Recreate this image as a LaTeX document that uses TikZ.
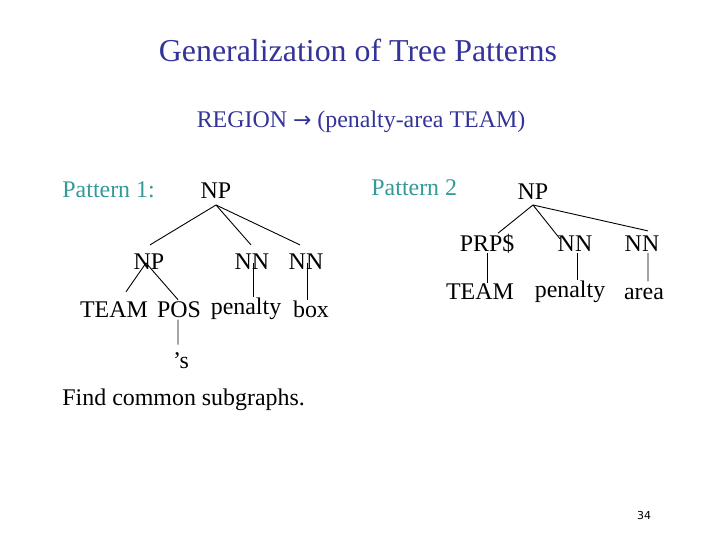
\documentclass[tikz,border=0pt]{standalone}
\usepackage{fontspec}
\setmainfont{Liberation Serif}
\newfontfamily\pagefont{DejaVu Sans}
\definecolor{titleblue}{RGB}{51,51,153}
\definecolor{patteal}{RGB}{51,153,153}
\begin{document}
\begin{tikzpicture}[x=1bp, y=-1bp, line width=0.9bp,
    tag/.style={inner sep=0, anchor=base, font=\fontsize{24}{28}\selectfont},
    heading/.style={tag, text=titleblue}]
\useasboundingbox (0,0) rectangle (720,540);

\node[heading, font=\fontsize{32}{38}\selectfont] (title) at (358,62) {Generalization of Tree Patterns};
\node[heading] (rule) at (361,128) {REGION {\pagefont\fontsize{22}{26}\selectfont →} (penalty-area TEAM)};

% pattern 1
\node[tag, anchor=base west, text=patteal] (pat1) at (62,198) {Pattern 1:};
\node[tag] (np1) at (216,199) {NP};
\node[tag] (np2) at (149,270) {NP};
\node[tag] (nn1) at (252,270) {NN};
\node[tag] (nn2) at (306,270) {NN};
\node[tag] (team1) at (114,317) {TEAM};
\node[tag] (pos) at (179,317) {POS};
\node[tag] (pen1) at (246,314) {penalty};
\node[tag] (box) at (311,317) {box};
\node[tag] (poss) at (181,368) {’s};

\draw ([yshift=-6bp]np1.base) -- ([xshift=1bp,yshift=9bp]np2.north);
\draw ([yshift=-6bp]np1.base) -- ([xshift=-1bp,yshift=9bp]nn1.north);
\draw ([yshift=-6bp]np1.base) -- ([xshift=-6bp,yshift=9bp]nn2.north);
\draw ([xshift=-3bp,yshift=7bp]np2.base) -- ([xshift=12bp,yshift=9bp]team1.north);
\draw ([xshift=-3bp,yshift=7bp]np2.base) -- ([xshift=-1bp,yshift=1bp]pos.north);
\draw ([xshift=1bp,yshift=7bp]nn1.base) -- ([xshift=1bp]nn1.base |- pen1.north);
\draw ([xshift=1bp,yshift=7bp]nn2.base) -- ([xshift=1bp]nn2.base |- box.north);
\draw ([xshift=-1bp,yshift=-2bp]pos.south) -- ([xshift=-3bp,yshift=7bp]poss.north);

% pattern 2
\node[tag, anchor=base west, text=patteal] (pat2) at (371,196) {Pattern 2};
\node[tag] (np3) at (533,200) {NP};
\node[tag] (prp) at (487,252) {PRP\$};
\node[tag] (nn3) at (575,252) {NN};
\node[tag] (nn4) at (642,252) {NN};
\node[tag] (team2) at (480,299) {TEAM};
\node[tag] (pen2) at (570,297) {penalty};
\node[tag] (area) at (644,299) {area};

\draw ([yshift=-5bp]np3.base) -- ([xshift=11bp,yshift=1bp]prp.north);
\draw ([yshift=-5bp]np3.base) -- ([xshift=-15bp,yshift=-3bp]nn3.north);
\draw ([yshift=-5bp]np3.base) -- ([xshift=6bp,yshift=5bp]nn4.north);
\draw ([yshift=-1bp]prp.base) -- (prp.base |- team2.north);
\draw ([xshift=2bp,yshift=-1bp]nn3.base) -- ([xshift=2bp]nn3.base |- pen2.north);
\draw ([xshift=6bp,yshift=-1bp]nn4.base) -- ([xshift=4bp,yshift=6bp]area.north);

\node[tag, anchor=base west] (find) at (62,405) {Find common subgraphs.};
\node[inner sep=0, anchor=base, font=\pagefont\fontsize{11}{13}\selectfont] (page) at (644,519) {34};
\end{tikzpicture}
\end{document}
